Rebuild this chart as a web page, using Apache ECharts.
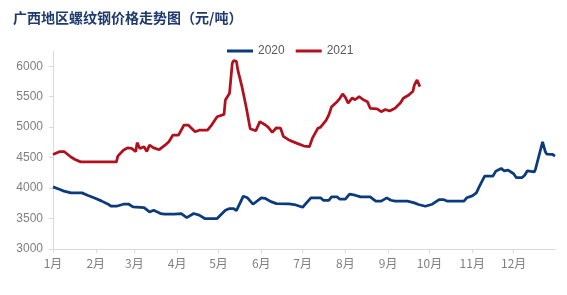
<!DOCTYPE html>
<html>
<head>
<meta charset="utf-8">
<script src="https://cdn.jsdelivr.net/npm/echarts@6/dist/echarts.min.js"></script>
<style>
html,body{margin:0;padding:0;background:#fff;}
#c{width:567px;height:295px;}
</style>
</head>
<body>
<div id="c"></div>
<script>
var titleText = '广西地区螺纹钢价格走势图（元/吨）';
var seriesNames = ['2020', '2021'];

var dates2020 = ['01-01','01-06','01-09','01-14','01-22','01-26','02-01','02-05','02-10','02-12','02-16','02-17','02-21','02-25','02-28','03-08','03-12','03-15','03-20','03-23','03-30','04-04','04-08','04-13','04-17','04-21','04-30','05-06','05-09','05-12','05-14','05-19','05-22','05-26','06-01','06-04','06-08','06-12','06-21','06-25','07-01','07-07','07-14','07-16','07-20','07-22','07-26','07-28','08-01','08-04','08-08','08-12','08-19','08-23','08-27','08-31','09-03','09-06','09-15','09-20','09-23','09-28','10-03','10-08','10-11','10-14','10-26','10-28','11-01','11-04','11-06','11-10','11-16','11-18','11-22','11-24','11-27','12-01','12-03','12-07','12-09','12-11','12-16','12-17','12-22','12-24','12-25','12-29','12-31'];
var values2020 = [4020,3977,3950,3921,3921,3883,3829,3790,3735,3702,3702,3680,3735,3735,3691,3680,3609,3637,3582,3571,3571,3580,3516,3582,3555,3500,3500,3637,3664,3664,3630,3867,3840,3735,3840,3830,3778,3745,3740,3730,3685,3840,3840,3800,3800,3855,3855,3817,3817,3900,3883,3855,3855,3785,3785,3840,3800,3785,3785,3757,3730,3702,3735,3812,3812,3785,3785,3840,3872,3921,4020,4196,4196,4275,4323,4283,4295,4235,4170,4170,4210,4284,4265,4323,4760,4596,4558,4555,4525];

var dates2021 = ['01-01','01-06','01-09','01-14','01-17','01-21','02-16','02-17','02-21','02-24','02-27','03-02','03-03','03-05','03-08','03-10','03-12','03-15','03-19','03-23','03-26','03-29','04-02','04-06','04-07','04-09','04-14','04-17','04-23','04-26','04-30','05-05','05-06','05-09','05-11','05-12','05-14','05-15','05-18','05-21','05-24','05-28','05-31','06-04','06-06','06-09','06-12','06-15','06-17','06-21','06-27','07-02','07-06','07-08','07-12','07-14','07-18','07-20','07-22','07-26','07-28','07-30','08-01','08-03','08-06','08-08','08-11','08-14','08-17','08-19','08-24','08-27','08-30','09-02','09-06','09-10','09-12','09-16','09-19','09-20','09-22','09-23','09-24'];
var values2021 = [4550,4600,4600,4510,4470,4430,4430,4525,4620,4660,4650,4600,4745,4650,4680,4600,4705,4660,4630,4700,4760,4870,4870,5035,5063,5035,4925,4950,4950,5035,5170,5210,5446,5557,6050,6093,6080,5940,5665,5340,4975,4940,5090,5035,5000,4915,4990,4985,4850,4790,4734,4690,4680,4816,4980,5000,5110,5200,5336,5418,5474,5545,5490,5392,5480,5450,5500,5450,5418,5310,5300,5254,5290,5265,5310,5400,5474,5528,5590,5690,5775,5750,5665];

var baseYear = 2021;
function toPoints(dates, values) {
  return dates.map(function (d, i) {
    var p = d.split('-');
    return [new Date(baseYear, +p[0] - 1, +p[1]).getTime(), values[i]];
  });
}

var chart = echarts.init(document.getElementById('c'), null, {renderer: 'canvas'});
var DAY = 86400000;
chart.setOption({
  animation: false,
  backgroundColor: '#fff',
  title: {
    text: titleText,
    left: 8,
    top: 6,
    textStyle: {
      fontFamily: '"Noto Sans CJK SC", sans-serif',
      fontSize: 14,
      fontWeight: 'bold',
      color: '#1f3a6e'
    }
  },
  legend: {
    data: seriesNames,
    left: 222,
    top: 40,
    itemWidth: 26,
    itemHeight: 3,
    itemGap: 11,
    icon: 'rect',
    textStyle: {fontSize: 12, color: '#595959', fontFamily: 'Arial, "Liberation Sans", sans-serif'}
  },
  grid: {left: 53, right: 12, top: 51, bottom: 46, containLabel: false},
  xAxis: {
    type: 'time',
    min: new Date(baseYear, 0, 1).getTime(),
    max: new Date(baseYear, 11, 31).getTime(),
    splitNumber: 12,
    minInterval: 28 * DAY,
    maxInterval: 31 * DAY,
    axisLine: {lineStyle: {color: '#d9d9d9', width: 1}},
    axisTick: {show: true, length: 4, lineStyle: {color: '#d9d9d9'}},
    splitLine: {show: false},
    axisLabel: {
      color: '#7f7f7f',
      fontSize: 12,
      margin: 8,
      fontFamily: '"Noto Sans CJK SC", sans-serif',
      formatter: function (val) {
        return (new Date(val).getMonth() + 1) + '月';
      }
    }
  },
  yAxis: {
    type: 'value',
    min: 3000,
    max: 6250,
    interval: 500,
    axisLine: {show: true, lineStyle: {color: '#d9d9d9', width: 1}},
    axisTick: {show: true, length: 4, lineStyle: {color: '#d9d9d9'}},
    splitLine: {show: false},
    axisLabel: {
      color: '#7f7f7f',
      fontSize: 12,
      margin: 10,
      showMaxLabel: false,
      fontFamily: 'Arial, "Liberation Sans", sans-serif',
      formatter: function (v) { return String(v); }
    }
  },
  series: [
    {
      name: seriesNames[0],
      type: 'line',
      data: toPoints(dates2020, values2020),
      showSymbol: false,
      symbol: 'none',
      lineStyle: {color: '#0b3b7c', width: 2.75},
      itemStyle: {color: '#0b3b7c'}
    },
    {
      name: seriesNames[1],
      type: 'line',
      data: toPoints(dates2021, values2021),
      showSymbol: false,
      symbol: 'none',
      lineStyle: {color: '#b0111d', width: 2.75},
      itemStyle: {color: '#b0111d'}
    }
  ]
});
</script>
</body>
</html>
